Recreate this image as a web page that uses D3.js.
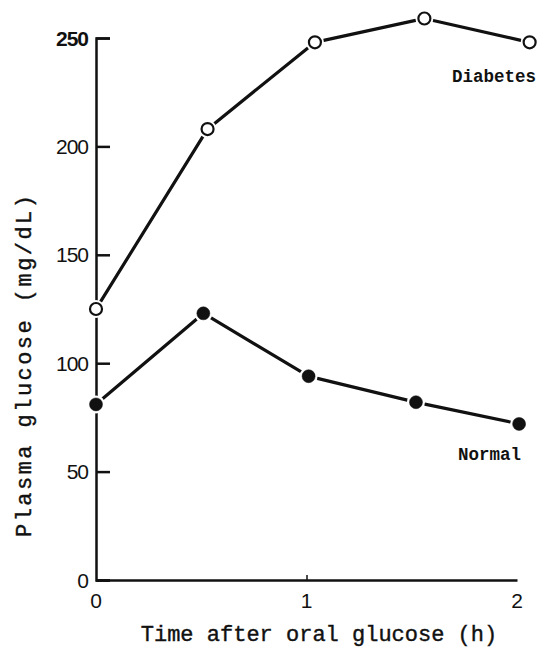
<!DOCTYPE html>
<html>
<head>
<meta charset="utf-8">
<script src="https://cdn.jsdelivr.net/npm/d3@7"></script>
<style>
  body { margin: 0; background: #fff; }
  svg { display: block; }
</style>
</head>
<body>
<div id="chart"></div>
<script>
// values (time in h, glucose in mg/dL)
const diabetesTime = [0, 0.53, 1.04, 1.56, 2.06];
const diabetesGlucose = [125, 208, 248, 259, 248];
const normalTime = [0, 0.51, 1.01, 1.52, 2.01];
const normalGlucose = [81, 123, 94, 82, 72];
const yTicks = [0, 50, 100, 150, 200, 250];
const xTicks = [0, 1, 2];

const width = 538, height = 651;

const svg = d3.select("#chart").append("svg")
    .attr("width", width)
    .attr("height", height);

const x = d3.scaleLinear().domain([0, 2]).range([96, 517]);
const y = d3.scaleLinear().domain([0, 250]).range([580, 38]);

const ink = "#111";

// y axis: ticks point inward (right), labels on the left
const yAxis = d3.axisRight(y).tickValues(yTicks).tickSize(14).tickFormat("");
const gy = svg.append("g").attr("transform", `translate(${x(0)},0)`).call(yAxis);
gy.select(".domain").attr("stroke", ink).attr("stroke-width", 2.5);
gy.selectAll(".tick line").attr("stroke", ink).attr("stroke-width", 2.5);

svg.selectAll(".ylab")
    .data(yTicks)
    .enter()
    .append("text")
    .attr("class", "ylab")
    .attr("x", 88)
    .attr("y", d => y(d))
    .attr("dy", "0.36em")
    .attr("text-anchor", "end")
    .attr("font-family", "Liberation Sans, Arial, sans-serif")
    .attr("font-size", 21)
    .attr("letter-spacing", -1)
    .attr("fill", ink)
    .attr("font-weight", d => d === 250 ? "bold" : "normal")
    .text(d => d);

// x axis: line with a tiny upward tick at 1
const xAxis = d3.axisTop(x).tickValues([1]).tickSize(5).tickSizeOuter(0).tickFormat("");
const gx = svg.append("g").attr("transform", `translate(0,${y(0)})`).call(xAxis);
gx.select(".domain").attr("stroke", ink).attr("stroke-width", 2.5);
gx.selectAll(".tick line").attr("stroke", ink).attr("stroke-width", 1.5);

svg.selectAll(".xlab")
    .data(xTicks)
    .enter()
    .append("text")
    .attr("class", "xlab")
    .attr("x", d => x(d))
    .attr("y", 600)
    .attr("dy", "0.36em")
    .attr("text-anchor", "middle")
    .attr("font-family", "Liberation Sans, Arial, sans-serif")
    .attr("font-size", 21)
    .attr("fill", ink)
    .text(d => d);

// axis titles
svg.append("text")
    .attr("x", 319)
    .attr("y", 633)
    .attr("dy", "0.35em")
    .attr("text-anchor", "middle")
    .attr("font-family", "Liberation Mono, Courier New, monospace")
    .attr("font-size", 22)
    .attr("fill", ink)
    .attr("stroke", ink)
    .attr("stroke-width", 0.4)
    .text("Time after oral glucose (h)");

svg.append("text")
    .attr("transform", "translate(23,366) rotate(-90)")
    .attr("dy", "0.35em")
    .attr("text-anchor", "middle")
    .attr("font-family", "Liberation Mono, Courier New, monospace")
    .attr("font-size", 22)
    .attr("textLength", 342)
    .attr("lengthAdjust", "spacing")
    .attr("fill", ink)
    .attr("stroke", ink)
    .attr("stroke-width", 0.4)
    .text("Plasma glucose (mg/dL)");

// series: segments stop short of the markers
function drawSeries(times, values, filled) {
    const pts = times.map((t, i) => [x(t), y(values[i])]);
    const segs = d3.pairs(pts);
    const gap = 9;
    svg.selectAll(null)
        .data(segs)
        .enter()
        .append("line")
        .each(function ([a, b]) {
            const dx = b[0] - a[0], dy = b[1] - a[1];
            const len = Math.hypot(dx, dy);
            const ux = dx / len, uy = dy / len;
            d3.select(this)
                .attr("x1", a[0] + ux * gap).attr("y1", a[1] + uy * gap)
                .attr("x2", b[0] - ux * gap).attr("y2", b[1] - uy * gap);
        })
        .attr("stroke", ink)
        .attr("stroke-width", 3.2)
        .attr("stroke-linecap", "round");

    // white halo to break the y axis under the first marker
    svg.selectAll(null)
        .data(pts)
        .enter()
        .append("circle")
        .attr("cx", d => d[0])
        .attr("cy", d => d[1])
        .attr("r", 9)
        .attr("fill", "#fff");

    svg.selectAll(null)
        .data(pts)
        .enter()
        .append("circle")
        .attr("cx", d => d[0])
        .attr("cy", d => d[1])
        .attr("r", filled ? 6.5 : 6)
        .attr("fill", filled ? ink : "#fff")
        .attr("stroke", ink)
        .attr("stroke-width", filled ? 0.5 : 2.2);
}

drawSeries(diabetesTime, diabetesGlucose, false);
drawSeries(normalTime, normalGlucose, true);

// series labels
svg.append("text")
    .attr("x", 452)
    .attr("y", 82)
    .attr("font-family", "Liberation Mono, Courier New, monospace")
    .attr("font-size", 17.5)
    .attr("font-weight", "bold")
    .attr("fill", ink)
    .text("Diabetes");

svg.append("text")
    .attr("x", 458)
    .attr("y", 460)
    .attr("font-family", "Liberation Mono, Courier New, monospace")
    .attr("font-size", 17.5)
    .attr("font-weight", "bold")
    .attr("fill", ink)
    .text("Normal");
</script>
</body>
</html>
